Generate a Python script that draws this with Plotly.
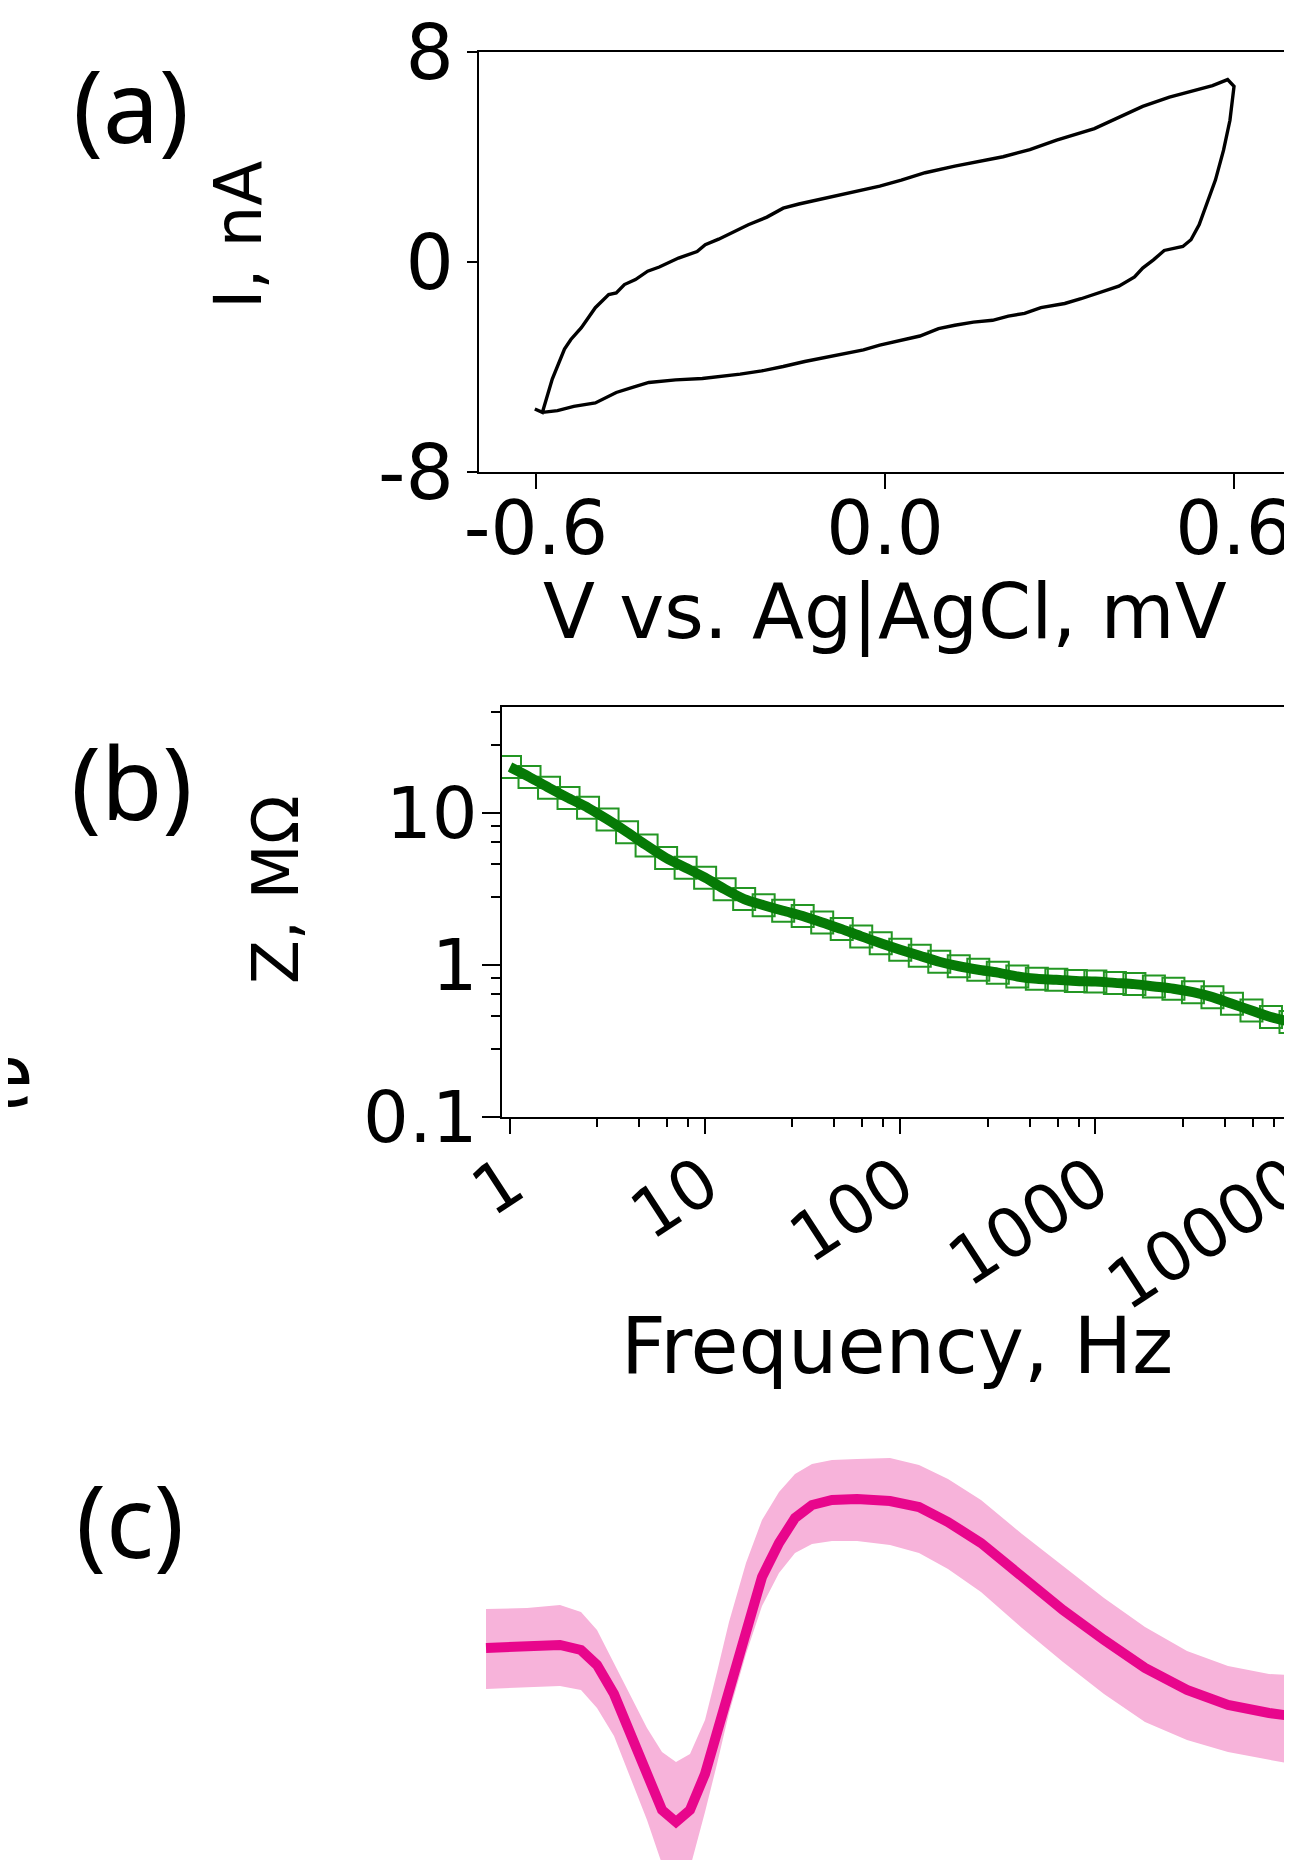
import plotly.graph_objects as go

# page offset of the figure inside the browser window (default body margin)
OFF = 8
W, H = 1292 - OFF, 1860 - OFF

# ---------------- data ----------------
# (a) cyclic voltammogram: potential (V vs Ag|AgCl) and current (nA), closed loop
cv_v = [-0.602, -0.589, -0.572, -0.551, -0.540, -0.522, -0.498, -0.475, -0.462, -0.448,
        -0.429, -0.408, -0.388, -0.355, -0.323, -0.309, -0.286, -0.258, -0.235, -0.203,
        -0.175, -0.148, -0.111, -0.083, -0.046, -0.009, 0.028, 0.069, 0.120, 0.166,
        0.203, 0.249, 0.295, 0.360, 0.397, 0.443, 0.489, 0.526, 0.563, 0.589,
        0.600, 0.593, 0.582, 0.568, 0.558, 0.540, 0.526, 0.512, 0.480, 0.462,
        0.443, 0.429, 0.402, 0.369, 0.337, 0.309, 0.268, 0.240, 0.212, 0.185,
        0.152, 0.120, 0.092, 0.060, 0.028, -0.009, -0.037, -0.074, -0.111, -0.138,
        -0.175, -0.212, -0.249, -0.286, -0.314, -0.360, -0.406, -0.434, -0.462, -0.498,
        -0.535, -0.563, -0.589]
cv_i = [-5.60, -5.73, -4.46, -3.32, -2.95, -2.50, -1.74, -1.24, -1.18, -0.86,
        -0.67, -0.35, -0.19, 0.15, 0.40, 0.66, 0.87, 1.19, 1.42, 1.71,
        2.05, 2.21, 2.39, 2.53, 2.72, 2.89, 3.12, 3.40, 3.65, 3.84,
        4.01, 4.28, 4.64, 5.08, 5.46, 5.93, 6.28, 6.50, 6.72, 6.95,
        6.69, 5.40, 4.26, 3.12, 2.49, 1.42, 0.85, 0.59, 0.44, 0.09,
        -0.23, -0.57, -0.92, -1.18, -1.40, -1.58, -1.74, -1.96, -2.06, -2.22,
        -2.29, -2.41, -2.54, -2.82, -2.97, -3.17, -3.35, -3.51, -3.70, -3.79,
        -3.98, -4.15, -4.27, -4.37, -4.44, -4.49, -4.59, -4.78, -4.97, -5.37,
        -5.50, -5.66, -5.73]
cv_xticks = [-0.6, 0.0, 0.6]
cv_xticktext = ["-0.6", "0.0", "0.6"]
cv_yticks = [-8, 0, 8]
cv_yticktext = ["-8", "0", "8"]

# (b) impedance spectrum: frequency (Hz) and |Z| (MOhm)
freq = [1, 1.259, 1.585, 1.995, 2.512, 3.162, 3.981, 5.012, 6.31, 7.943,
        10, 12.59, 15.85, 19.95, 25.12, 31.62, 39.81, 50.12, 63.1, 79.43,
        100, 125.9, 158.5, 199.5, 251.2, 316.2, 398.1, 501.2, 631, 794.3,
        1000, 1259, 1585, 1995, 2512, 3162, 3981, 5012, 6310, 7943, 10000]
z_mohm = [20.0, 17.2, 14.6, 12.5, 10.8, 9.04, 7.47, 6.11, 5.05, 4.36,
          3.75, 3.15, 2.71, 2.47, 2.27, 2.10, 1.90, 1.72, 1.54, 1.39,
          1.26, 1.15, 1.05, 0.98, 0.93, 0.89, 0.84, 0.81, 0.80, 0.785,
          0.778, 0.762, 0.748, 0.722, 0.697, 0.662, 0.614, 0.555, 0.502, 0.454, 0.422]
f_major = [1, 10, 100, 1000, 10000]
f_major_text = ["1", "10", "100", "1000", "10000"]
f_minor = [2.8, 4.6, 6.4, 8.2, 28, 46, 64, 82, 280, 460, 640, 820, 2800, 4600, 6400, 8200]
z_major = [0.1, 1, 10]
z_major_text = ["0.1", "1", "10"]
z_minor = [0.28, 0.46, 0.64, 0.82, 2.8, 4.6, 6.4, 8.2, 28, 46]

# (c) mean spike waveform with spread band: time (ms), amplitude (uV)
t_ms = [0.00, 0.41, 0.74, 0.95, 1.11, 1.28, 1.44, 1.61, 1.76, 1.90, 2.04, 2.19, 2.31,
        2.43, 2.60, 2.76, 2.93, 3.09, 3.26, 3.46, 3.71, 4.04, 4.33, 4.62, 4.95,
        5.36, 5.77, 6.18, 6.59, 7.01, 7.42, 7.83, 8.06]
amp_mean = [0, 0.5, 1.5, -1, -8.5, -23, -43, -64, -81, -87, -81, -63, -42,
            -19.5, 9, 35.5, 52.5, 65, 71.5, 74, 74.5, 73.5, 70.5, 63, 52.5,
            35.5, 19, 4, -10, -21, -28.5, -32.5, -34]
amp_upper = [19.5, 20, 21.5, 18, 9, -7.5, -23, -40, -52, -57, -53, -36, -12,
             13, 42.5, 64, 78, 87, 92, 94, 94.5, 95, 91.5, 84.5, 74,
             57, 41, 25, 10.5, -1.5, -9, -13, -13.5]
amp_lower = [-20.5, -19.5, -19, -21, -30, -44, -64, -86, -108, -124, -110, -82, -58,
             -32.5, -3, 21, 37.5, 47.5, 52, 53.5, 53.5, 51.5, 47.5, 39.5, 28,
             10, -7, -23, -37, -46, -52, -56, -58]

# ---------------- layout helpers (window pixel -> paper) ----------------
def px(x):
    return (x - OFF) / W

def py(y):
    return 1 - (y - OFF) / H

FONT = "DejaVu Sans"
LABEL_FONT = "Noto Sans"

fig = go.Figure()

# (a)
fig.add_trace(go.Scatter(x=cv_v, y=cv_i, mode="lines",
                         line=dict(color="black", width=3.4),
                         xaxis="x", yaxis="y", hoverinfo="skip"))
# (b)
fig.add_trace(go.Scatter(x=freq, y=z_mohm, mode="markers",
                         marker=dict(symbol="square-open", size=22, color="#239623",
                                     line=dict(width=2, color="#239623")),
                         xaxis="x2", yaxis="y2", hoverinfo="skip"))
fig.add_trace(go.Scatter(x=freq, y=z_mohm, mode="lines",
                         line=dict(color="#067a06", width=10, shape="spline", smoothing=0.8),
                         xaxis="x2", yaxis="y2", hoverinfo="skip"))
# (c)
fig.add_trace(go.Scatter(x=t_ms, y=amp_upper, mode="lines", line=dict(width=0, color="#f7b3da"),
                         xaxis="x3", yaxis="y3", hoverinfo="skip"))
fig.add_trace(go.Scatter(x=t_ms, y=amp_lower, mode="lines", line=dict(width=0, color="#f7b3da"),
                         fill="tonexty", fillcolor="#f7b3da",
                         xaxis="x3", yaxis="y3", hoverinfo="skip"))
fig.add_trace(go.Scatter(x=t_ms, y=amp_mean, mode="lines", line=dict(width=10, color="#e8068c"),
                         xaxis="x3", yaxis="y3", hoverinfo="skip"))

axis_common = dict(showgrid=False, zeroline=False, showline=True, linecolor="black",
                   linewidth=2, mirror=True, ticks="outside", tickcolor="black",
                   tickwidth=2, automargin=False, ticklabeloverflow="allow",
                   tickfont=dict(family=FONT, size=76, color="black"))

fig.update_layout(
    width=W, height=H,
    margin=dict(l=0, r=0, t=0, b=0, pad=0, autoexpand=False),
    paper_bgcolor="white", plot_bgcolor="white",
    showlegend=False,
    xaxis=dict(axis_common, domain=[px(479), px(1289)],
               range=[(479 - 885) / 581.7, (1289 - 885) / 581.7],
               tickmode="array", tickvals=cv_xticks, ticktext=cv_xticktext,
               ticklen=15, ticklabelstandoff=-24, anchor="y",
               tickfont=dict(family=FONT, size=74, color="black")),
    yaxis=dict(axis_common, domain=[py(472), py(52)], range=[-8, 8],
               tickmode="array", tickvals=cv_yticks, ticktext=cv_yticktext,
               ticklen=10, ticklabelstandoff=-2, anchor="x"),
    xaxis2=dict(axis_common, type="log", domain=[px(502), px(1290.5)],
                range=[(502 - 510) / 195.1, 4.0],
                tickmode="array", tickvals=f_major, ticktext=f_major_text,
                ticklen=15, tickangle=-33, ticklabelstandoff=-16, anchor="y2",
                tickfont=dict(family=FONT, size=68, color="black"),
                minor=dict(tickmode="array", tickvals=f_minor, ticks="outside",
                           ticklen=8, tickwidth=2, tickcolor="black")),
    yaxis2=dict(axis_common, type="log", domain=[py(1117), py(707)],
                range=[-1, 1 + (813.3 - 707) / 152.7],
                tickmode="array", tickvals=z_major, ticktext=z_major_text,
                ticklen=18, ticklabelstandoff=-10, anchor="x2",
                tickfont=dict(family=FONT, size=72, color="black"),
                minor=dict(tickmode="array", tickvals=z_minor, ticks="outside",
                           ticklen=9, tickwidth=2, tickcolor="black")),
    xaxis3=dict(visible=False, domain=[px(480), 1.0], range=[-0.06, 8.06], anchor="y3"),
    yaxis3=dict(visible=False, domain=[0.0, py(1440)], range=[-106, 104], anchor="x3"),
)

def ann(text, x, y, size, family=FONT, angle=0, xanchor="center", yanchor="middle"):
    fig.add_annotation(text=text, x=px(x), y=py(y), xref="paper", yref="paper",
                       showarrow=False, textangle=angle, xanchor=xanchor, yanchor=yanchor,
                       font=dict(family=family, size=size, color="black"))

# panel labels
ann("(a)", 131, 104, 100, family=LABEL_FONT)
ann("(b)", 132, 781, 100, family=LABEL_FONT)
ann("(c)", 130, 1519, 100, family=LABEL_FONT)
# axis titles
ann("V vs. Ag|AgCl, mV", 885, 612, 76)
ann("I, nA", 238, 235, 66, angle=-90)
ann("Frequency, Hz", 897, 1346, 78)
ann("Z, MΩ", 276, 890, 64, angle=-90)
# fragment of a cut-off label at the left edge
ann("e", 36, 1076, 86, xanchor="right")

fig.write_html("out.html")
